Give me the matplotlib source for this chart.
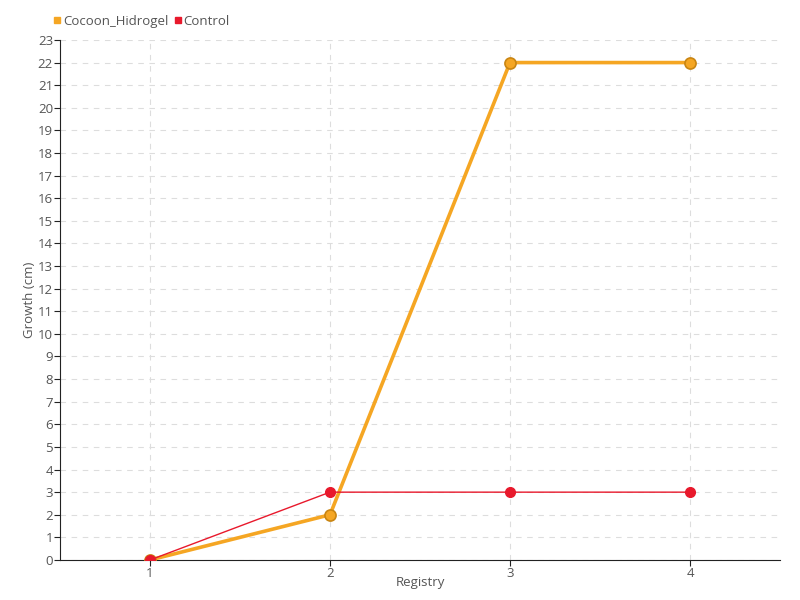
import matplotlib
matplotlib.use("Agg")
import matplotlib.pyplot as plt

registry = [1, 2, 3, 4]
cocoon_hidrogel = [0, 2, 22, 22]
control = [0, 3, 3, 3]
y_ticks = list(range(0, 24))

plt.rcParams['font.family'] = ['Open Sans', 'DejaVu Sans']

fig = plt.figure(figsize=(8, 6), dpi=100)
ax = fig.add_axes([0.075, 0.0667, 0.9, 0.8667])

ax.plot(registry, cocoon_hidrogel, color='#f5a623', lw=2.6, marker='o', ms=8,
        mfc='#f5a623', mec='#c98512', mew=1.2, label='Cocoon_Hidrogel', zorder=3)
ax.plot(registry, control, color='#e8192c', lw=1, marker='o', ms=7,
        mfc='#e8192c', mec='#e8192c', label='Control', zorder=4)

ax.set_xlim(0.5, 4.5)
ax.set_ylim(0, 23)
ax.set_xticks(registry)
ax.set_yticks(y_ticks)
ax.grid(True, color='#dddddd', linestyle=(0, (5, 5)), lw=0.8)
ax.set_axisbelow(True)

for s in ['top', 'right']:
    ax.spines[s].set_visible(False)
ax.spines['left'].set_color('#222222')
ax.spines['bottom'].set_color('#222222')
ax.tick_params(axis='both', labelsize=9.5, labelcolor='#555555', color='#222222',
               length=4, pad=1)

ax.set_xlabel('Registry', fontsize=9.5, color='#555555', labelpad=-3)
ax.yaxis.set_label_coords(-0.033, 0.5)
ax.set_ylabel('Growth (cm)', fontsize=9.5, color='#555555')

handles = [plt.Line2D([], [], marker='s', ls='', color='#f5a623', ms=4.5),
           plt.Line2D([], [], marker='s', ls='', color='#e8192c', ms=4.5)]
fig.legend(handles, ['Cocoon_Hidrogel', 'Control'], loc='upper left',
           bbox_to_anchor=(0.05, 0.995), ncol=2, frameon=False, fontsize=9.5,
           handletextpad=0.05, columnspacing=0.3, labelcolor='#555555', handlelength=0.8)

fig.savefig('out.png', dpi=100)
